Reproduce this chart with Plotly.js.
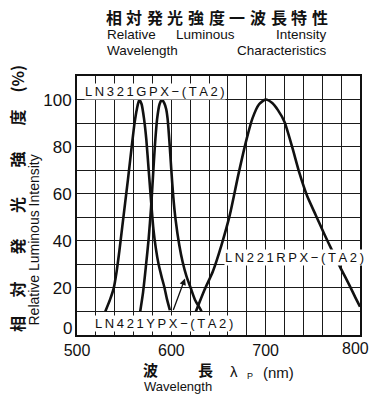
<!DOCTYPE html>
<html><head><meta charset="utf-8">
<script src="https://cdn.plot.ly/plotly-3.0.1.min.js"></script>
<style>html,body{margin:0;padding:0;background:#fff;}</style>
</head><body><div id="chart" style="width:370px;height:396px;"></div>
<script>
// ---- data ----
const greenNm  = [530,535,539,542,545,548,551,554,558,561,563.5,566,568.5,571,573.5,576,578.5,581,583.5,586.5,589.5,592.5,595.5,598.5];
const greenPct = [10,15,20,27,36,46,56,66,80,90,96,100,98,92,83,70,57,45,37,30,25,20.5,15,10.5];
const yellowNm  = [567,570,573,576,578.5,580.5,582.5,585,587.5,590,592.5,594.5,596,598,600,602,604.5,608.5,612,616,620.5,625,630,632];
const yellowPct = [10,18,29,41,54,67,80,92,98,100,98.5,96,92,82,70,59,49,38,31,25,20,15,11.5,10];
const redNm  = [626,635,644,653,662,671,680,686,693,700,707,713,720,728,736,744,753,762,771,780,789,795,800];
const redPct = [10,19,27,38,51,68,83.5,92,98,100,98.5,95.5,90.5,80,68.5,59,51,43,35.4,28,21,16,12];
const xTickVals = [500,600,700,800];
const yTickVals = [0,20,40,60,80,100];
const seriesLabels = ['LN321GPX\u2212(TA2)','LN221RPX\u2212(TA2)','LN421YPX\u2212(TA2)'];
const titleCJK = '相対発光強度一波長特性';
const titleEn1 = ['Relative','Luminous','Intensity'];
const titleEn2 = ['Wavelength','Characteristics'];
const yTitleCJK = ['相','対','発','光','強','度','(%)'];
const yTitleEn = 'Relative Luminous Intensity';
const xTitleCJK = ['波','長'];
const xTitleEn = 'Wavelength';

// ---- geometry helpers ----
const L=77, R=10, T=76, B=61, W=370, H=396;
const PW=W-L-R, PH=H-T-B;
const fx = px => (px-L)/PW;
const fy = py => (H-B-py)/PH;
const sp = s => s.split('').join('\u2009');

const lineStyle = {color:'#111', width:2.6, shape:'spline', smoothing:0.6};
const traces = [
  {x:greenNm, y:greenPct, mode:'lines', line:lineStyle, hoverinfo:'skip'},
  {x:yellowNm, y:yellowPct, mode:'lines', line:lineStyle, hoverinfo:'skip'},
  {x:redNm, y:redPct, mode:'lines', line:lineStyle, hoverinfo:'skip'}
];

const ann = [];
const sans = 'Liberation Sans, Arial, sans-serif';
const narrow = 'Liberation Sans Narrow, Arial Narrow, Liberation Sans, sans-serif';
const cjk = 'Noto Sans CJK JP, sans-serif';
function P(px,py,text,font,extra){ann.push(Object.assign({xref:'paper',yref:'paper',x:fx(px),y:fy(py),text:text,showarrow:false,xanchor:'center',yanchor:'middle',borderpad:0,font:font},extra||{}));}
// main title
titleCJK.split('').forEach((c,i)=>P(113.5+i*20.65,17,'<b>'+c+'</b>',{family:cjk,size:16,color:'#111'}));
const enF = {family:sans,size:13.5,color:'#111'};
P(106,34,titleEn1[0],enF,{xanchor:'left'});
P(205,34,titleEn1[1],enF);
P(328,34,titleEn1[2],enF,{xanchor:'right'});
P(106,51,titleEn2[0],enF,{xanchor:'left'});
P(328,51,titleEn2[1],enF,{xanchor:'right'});
// y title
const yPos=[324.5,290,247,205.5,160,118,79];
yTitleCJK.forEach((c,i)=>P(16.5,yPos[i],'<b>'+c+'</b>',{family:cjk,size:16,color:'#111'},{textangle:-90}));
P(33.5,240,yTitleEn,{family:sans,size:14,color:'#111'},{textangle:-90});
// x title
P(150,369,'<b>'+xTitleCJK[0]+'</b>',{family:cjk,size:15,color:'#111'});
P(205,369,'<b>'+xTitleCJK[1]+'</b>',{family:cjk,size:15,color:'#111'});
P(177.5,386,xTitleEn,{family:sans,size:13,color:'#111'});
P(234,371,'λ',{family:sans,size:15,color:'#111'});
P(249.5,376,'P',{family:sans,size:9,color:'#111'});
P(278.5,372,'(nm)',{family:sans,size:15,color:'#111'});
// "0" tick label sits slightly above the baseline in the reference
ann.push({xref:'paper',yref:'y',x:0,y:yTickVals[0],xanchor:'right',yanchor:'middle',xshift:-4,yshift:7,text:String(yTickVals[0]),showarrow:false,borderpad:0,font:{family:narrow,size:17,color:'#111'}});
// last x tick label kept inside the page edge
const lastX = xTickVals[xTickVals.length-1];
ann.push({xref:'x',yref:'paper',x:lastX,y:0,xanchor:'right',yanchor:'top',xshift:10,yshift:-4,text:String(lastX),showarrow:false,borderpad:0,font:{family:narrow,size:16,color:'#111'}});
// series labels
const labFont = {family:sans,size:13,color:'#111'};
P(84,91.5,sp(seriesLabels[0]),labFont,{xanchor:'left',bgcolor:'#fff'});
P(224,257,sp(seriesLabels[1]),labFont,{xanchor:'left',bgcolor:'#fff'});
P(94,323,sp(seriesLabels[2]),labFont,{xanchor:'left',bgcolor:'#fff'});
// arrow from yellow label to yellow curve
ann.push({x:614.5,y:24,xref:'x',yref:'y',ax:601.5,ay:10,axref:'x',ayref:'y',text:'',showarrow:true,arrowhead:2,arrowsize:1,arrowwidth:1.3,arrowcolor:'#111'});

const gridC='#1a1a1a';
const layout = {
  width:W, height:H, margin:{l:L,r:R,t:T,b:B,pad:0},
  paper_bgcolor:'#fff', plot_bgcolor:'#fff', showlegend:false,
  xaxis:{range:[500,800], tickvals:xTickVals, ticktext:xTickVals.map(v=>v===lastX?'':String(v)), showgrid:true, gridcolor:gridC, gridwidth:1,
    minor:{dtick:20, tick0:500, showgrid:true, gridcolor:gridC, gridwidth:1},
    showline:true, mirror:true, linecolor:'#111', linewidth:2, zeroline:false, ticks:'',
    tickfont:{family:narrow, size:16, color:'#111'}},
  yaxis:{range:[0,110], tickvals:yTickVals, ticktext:yTickVals.map(v=>v===0?'':String(v)), showgrid:true, gridcolor:gridC, gridwidth:1,
    minor:{dtick:10, tick0:0, showgrid:true, gridcolor:gridC, gridwidth:1},
    showline:true, mirror:true, linecolor:'#111', linewidth:2, zeroline:false, ticks:'',
    tickfont:{family:narrow, size:17, color:'#111'}},
  annotations:ann
};
Plotly.newPlot('chart', traces, layout, {staticPlot:true, displayModeBar:false});
</script>
</body></html>
